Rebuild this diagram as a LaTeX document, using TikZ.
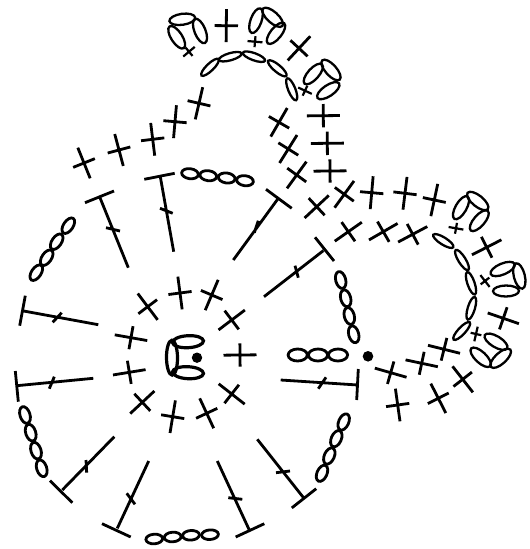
\documentclass[tikz,border=0pt]{standalone}
\tikzset{
  stroke/.style={draw=black,fill=none},
  thin stitch/.style={draw=black,line width=2.3pt,fill=none},
  ring stitch/.style={draw=black,line width=3.2pt,fill=none},
}
\newcommand\Cr[3]{\draw[stroke,shift={(#1,#2)},rotate=#3] (-16.5,0)--(16.5,0) (0,-11.7)--(0,11.7);}
\newcommand\Sc[3]{\draw[stroke,line width=2.2pt,shift={(#1,#2)},rotate=#3] (-7.5,0)--(7.5,0) (0,-5.5)--(0,5.5);}
\newcommand\El[5]{\draw[stroke,shift={(#1,#2)},rotate=#5] (0,0) ellipse [x radius=#3pt,y radius=#4pt];}
\newcommand\Rg[5]{\draw[ring stitch,shift={(#1,#2)},rotate=#5] (0,0) ellipse [x radius=#3pt,y radius=#4pt];}
\newcommand\Lp[3]{\draw[thin stitch,shift={(#1,#2)},rotate=#3] (0,0) ellipse [x radius=11.8pt,y radius=3.6pt];}
\newcommand\Bl[3]{\draw[thin stitch,shift={(#1,#2)},rotate=#3] (0,0) ellipse [x radius=13pt,y radius=5.5pt];}
\begin{document}
\begin{tikzpicture}[x=1pt,y=-1pt,line width=2.8pt]
\useasboundingbox (0,0) rectangle (530,549);
% centre ring
\Rg{188}{341.7}{15.5}{6}{3}
\Rg{188}{372.7}{15.5}{6}{-3}
\Rg{172}{357.7}{5.5}{17.4}{0.5}
\fill (197,357.7) circle [radius=5.2pt];
\Cr{240}{355}{0.6}
\Cr{231.7}{320}{37}
\Cr{211.7}{295}{67}
\Cr{180}{293}{97.5}
\Cr{147.7}{306.7}{127}
\Cr{131}{337.7}{170}
\Cr{129.3}{372.3}{9.3}
\Cr{142.3}{402.3}{43}
\Cr{172.7}{416.7}{80.6}
\Cr{206.7}{413.3}{115}
\Cr{231.7}{394}{142}
% tall stitches
\draw[stroke] (128.3,267.7)--(100,197.7) (85,202.7)--(114,191) (106,227.7)--(120,231);
\draw[stroke] (173.7,251.7)--(160.3,176.7) (144.3,179.3)--(174.7,173.3) (160,208.3)--(172.7,213.3);
\draw[stroke] (98.3,324.7)--(22,310.7) (25.3,295.7)--(19.7,325.7) (61.7,312.7)--(52.7,322.3);
\draw[stroke] (233.3,260)--(278.3,198.3) (266,189.3)--(291.7,208.3) (258.3,220.7)--(254.3,232.7);
\draw[stroke] (264,296.7)--(323.3,250.7) (315,237.3)--(334,261) (295,265.7)--(298.3,277.7);
\draw[stroke] (280.7,380)--(357.7,385) (358.3,369)--(356.7,400) (326,377.3)--(318.3,388.7);
\draw[stroke] (257.3,439.3)--(304,498.3) (291.8,507.9)--(316.2,488.7) (276,472.7)--(290,471);
\draw[stroke] (93.3,378.3)--(16.7,385.7) (15.3,371)--(18.3,401.7) (54.3,376.7)--(49.3,388.7);
\draw[stroke] (114.3,436.7)--(62.3,490) (50,480.7)--(72.3,502.7) (86,460)--(86.7,472.7);
\draw[stroke] (148.7,461)--(117.3,528.3) (102,523.7)--(130.7,537) (126.7,493.3)--(135,504.3);
\draw[stroke] (217.3,461)--(249.3,530) (235.7,537)--(264.3,523.7) (228.3,497.7)--(242.3,499.3);
% chains
\El{190}{173.7}{8.4}{5}{-8}\El{208.3}{175.7}{8.4}{5}{-8}\El{226.7}{178}{8.4}{5}{-8}\El{245}{180.7}{8.4}{5}{-8}
\El{68.3}{225.7}{8.8}{4.8}{56}\El{56.7}{241.7}{8.8}{4.8}{56}\El{46.7}{257.7}{8.8}{4.8}{56}\El{36.3}{272.7}{8.8}{4.8}{56}
\El{25}{415}{8.6}{5}{-72}\El{30.7}{432.7}{8.6}{5}{-72}\El{36}{450.7}{8.6}{5}{-72}\El{41.7}{468.3}{8.6}{5}{-72}
\El{154.3}{539}{8.4}{4.8}{4}\El{172.7}{537}{8.4}{4.8}{4}\El{191}{535.3}{8.4}{4.8}{4}\El{210}{534.7}{8.4}{4.8}{4}
\El{340.7}{280}{8.6}{5}{-75}\El{345.7}{298.3}{8.6}{5}{-75}\El{349.3}{316}{8.6}{5}{-75}\El{353.7}{334.3}{8.6}{5}{-75}
\El{297.7}{355}{9.6}{6}{0.5}\El{318}{355}{9.6}{6}{0.5}\El{338}{355}{9.6}{6}{0.5}
\El{343.7}{422}{8.6}{5}{66}\El{336.3}{438.7}{8.6}{5}{66}\El{329.3}{456}{8.6}{5}{66}\El{322}{473.3}{8.6}{5}{66}
\fill (368,356.3) circle [radius=5.3pt];
% upper-left row
\Cr{84}{163}{112}
\Cr{119}{150}{105}
\Cr{152.7}{139.3}{97}
\Cr{175}{121.7}{85}
\Cr{199}{103.3}{77}
% top picot group
\Bl{182.3}{19.3}{8}\Bl{176.7}{37.3}{-57}\Bl{200}{31}{-68}
\Sc{189}{51.7}{40}
\Cr{226.3}{25.7}{89.4}
\Bl{272.7}{17.3}{-42}\Bl{256}{20.7}{70}\Bl{276}{33.3}{51}
\Sc{255}{41.7}{-5}
\Cr{299}{48.3}{47}
\Bl{313.3}{74}{48}\Bl{331}{70}{-48}\Bl{328.3}{90.7}{34}
\Sc{305}{90.7}{-25}
\Lp{210}{67.3}{44}\Lp{230.3}{56.7}{16}\Lp{254}{56.7}{-20}\Lp{277.3}{68.3}{-40}\Lp{291.7}{89.3}{-68}
% crosses below the top arc
\Cr{279}{122.3}{60}
\Cr{288.3}{149}{58}
\Cr{296.7}{175}{54}
\Cr{323.3}{115.7}{0.6}
\Cr{327.3}{143.3}{0.6}
\Cr{330}{171}{0.6}
\Cr{316.7}{206.7}{43}
\Cr{344.3}{194.3}{54}
\Cr{371.7}{192.7}{85}
\Cr{348.3}{231.7}{35}
\Cr{383.3}{231.7}{30}
\Cr{412.7}{234.3}{28}
\Cr{405}{193.3}{83}
\Cr{434.3}{200}{78}
% right arc
\Lp{443.3}{241}{-32}\Lp{462}{260}{-58}\Lp{471}{283.3}{-71}\Lp{471.3}{308.3}{73}\Lp{461.7}{331}{47}
% right picot groups
\Bl{461}{207.7}{60}\Bl{477.7}{201}{-39}\Bl{479.3}{220.7}{49}
\Sc{456}{228.3}{-10}
\Cr{486.7}{247.3}{27}
\Bl{502.7}{269}{23}\Bl{519.3}{276}{-76}\Bl{506}{291}{0.6}
\Sc{485}{281}{-52}
\Cr{503.3}{318.3}{-19}
\Bl{496}{341.7}{-31}\Bl{480.7}{357.3}{-43}\Bl{500.7}{358.3}{42}
\Sc{476}{334}{77}
\Cr{462.7}{379.3}{128}
\Cr{438.3}{398.3}{117}
\Cr{397.7}{405}{98}
\Cr{444}{349.3}{-14}
\Cr{421.7}{363.3}{-12}
\Cr{390.7}{372.7}{-16}
\end{tikzpicture}
\end{document}
